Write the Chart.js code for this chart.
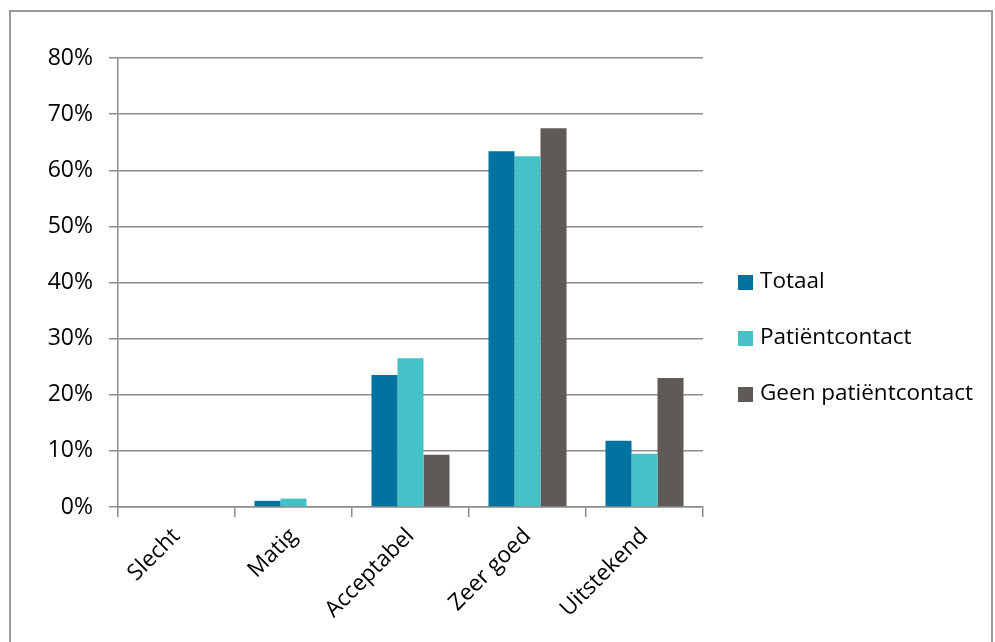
<!DOCTYPE html>
<html>
<head>
<meta charset="utf-8">
<script src="https://cdn.jsdelivr.net/npm/chart.js@4"></script>
<style>
  html, body { margin: 0; padding: 0; background: #fff; }
  #wrap { position: relative; width: 995px; height: 642px; }
  #frame { position: absolute; left: 9px; top: 10px; width: 984px; height: 632px; border: 2px solid #9a9a9a; border-bottom: none; box-sizing: border-box; }
  canvas { position: absolute; left: 0; top: 0; }
</style>
</head>
<body>
<div id="wrap">
  <div id="frame"></div>
  <canvas id="chart" width="995" height="642"></canvas>
</div>
<script>
const categories = ['Slecht', 'Matig', 'Acceptabel', 'Zeer goed', 'Uitstekend'];
const seriesNames = ['Totaal', 'Patiëntcontact', 'Geen patiëntcontact'];
const totaal = [0, 1.1, 23.5, 63.4, 11.8];
const patientcontact = [0, 1.5, 26.5, 62.5, 9.5];
const geenPatientcontact = [0, 0, 9.3, 67.5, 23.0];
const yTicks = [0, 10, 20, 30, 40, 50, 60, 70, 80];

const colors = ['#0072A0', '#45C2C8', '#5F5A56'];
const fontFamily = '"Open Sans", sans-serif';

// legend drawn by hand so it sits where the original one is
const sideLegend = {
    id: 'sideLegend',
    afterDraw(chart) {
        const ctx = chart.ctx;
        ctx.save();
        ctx.font = '22.5px ' + fontFamily;
        ctx.textBaseline = 'middle';
        chart.data.datasets.forEach(function (ds, i) {
            const y = 282 + i * 56;
            ctx.fillStyle = ds.backgroundColor;
            ctx.fillRect(738, y - 7, 15, 15);
            ctx.fillStyle = '#000';
            ctx.fillText(ds.label, 760, y);
        });
        ctx.restore();
    }
};

const ctx = document.getElementById('chart').getContext('2d');
new Chart(ctx, {
    type: 'bar',
    data: {
        labels: categories,
        datasets: [
            { label: seriesNames[0], data: totaal, backgroundColor: colors[0] },
            { label: seriesNames[1], data: patientcontact, backgroundColor: colors[1] },
            { label: seriesNames[2], data: geenPatientcontact, backgroundColor: colors[2] }
        ]
    },
    options: {
        responsive: false,
        animation: false,
        layout: { padding: { left: 20, top: 58, right: 292, bottom: 0 } },
        datasets: { bar: { categoryPercentage: 0.667, barPercentage: 1.0 } },
        plugins: {
            legend: { display: false },
            tooltip: { enabled: false }
        },
        scales: {
            x: {
                offset: true,
                grid: {
                    offset: true,
                    drawOnChartArea: false,
                    drawTicks: true,
                    tickLength: 10,
                    color: '#8c8c8c',
                    lineWidth: 1.5
                },
                border: { display: true, color: '#8c8c8c', width: 1.5 },
                ticks: {
                    autoSkip: false,
                    maxRotation: 45,
                    minRotation: 45,
                    padding: 6,
                    color: '#000',
                    font: { size: 22.5, family: fontFamily }
                },
                afterFit: function (scale) { scale.height = 135; }
            },
            y: {
                min: 0,
                max: 80,
                afterBuildTicks: function (scale) {
                    scale.ticks = yTicks.map(function (v) { return { value: v }; });
                },
                grid: {
                    color: '#8c8c8c',
                    lineWidth: 1.5,
                    tickLength: 9
                },
                border: { display: true, color: '#8c8c8c', width: 1.5 },
                ticks: {
                    padding: 16,
                    color: '#000',
                    font: { size: 23, family: fontFamily },
                    callback: function (v) { return v + '%'; }
                },
                afterFit: function (scale) { scale.width = 98; }
            }
        }
    },
    plugins: [sideLegend]
});
</script>
</body>
</html>
